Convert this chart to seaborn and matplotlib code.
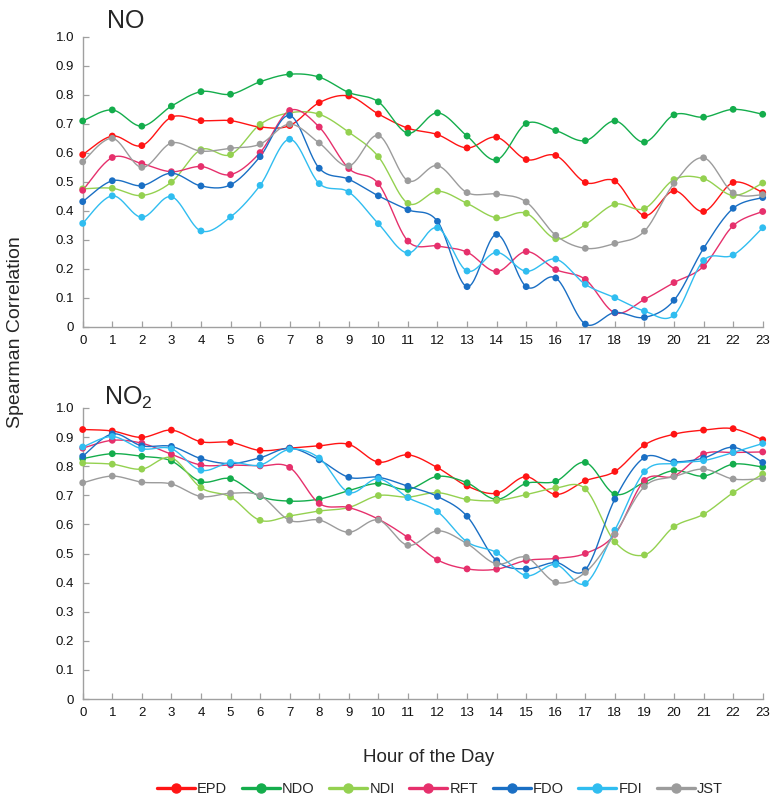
import numpy as np
import pandas as pd
import matplotlib
matplotlib.use("Agg")
import matplotlib.pyplot as plt
from matplotlib.lines import Line2D
import seaborn as sns

# ---------------- data ----------------
hours = list(range(24))
methods = ["EPD", "NDO", "NDI", "RFT", "FDO", "FDI", "JST"]
colors = ["#ff1414", "#14ad4c", "#94d150", "#e6306c", "#1a6fc4", "#30bdf0", "#9c9c9c"]

no_epd = [0.593, 0.657, 0.624, 0.722, 0.710, 0.710, 0.688, 0.693, 0.772, 0.795, 0.733, 0.684,
          0.662, 0.616, 0.653, 0.576, 0.590, 0.497, 0.502, 0.383, 0.468, 0.397, 0.497, 0.462]
no_ndo = [0.709, 0.747, 0.691, 0.760, 0.810, 0.801, 0.844, 0.870, 0.860, 0.807, 0.775, 0.667,
          0.737, 0.657, 0.575, 0.700, 0.676, 0.641, 0.709, 0.636, 0.730, 0.722, 0.749, 0.732]
no_ndi = [0.475, 0.477, 0.452, 0.498, 0.610, 0.593, 0.697, 0.737, 0.732, 0.670, 0.586, 0.425,
          0.467, 0.425, 0.375, 0.391, 0.303, 0.352, 0.422, 0.407, 0.507, 0.510, 0.452, 0.495]
no_rft = [0.470, 0.583, 0.562, 0.534, 0.552, 0.524, 0.600, 0.745, 0.688, 0.545, 0.493, 0.295,
          0.278, 0.257, 0.190, 0.259, 0.197, 0.163, 0.048, 0.094, 0.152, 0.208, 0.348, 0.397]
no_fdo = [0.431, 0.503, 0.486, 0.529, 0.485, 0.489, 0.586, 0.728, 0.546, 0.508, 0.451, 0.403,
          0.363, 0.138, 0.318, 0.138, 0.168, 0.009, 0.049, 0.032, 0.091, 0.270, 0.408, 0.445]
no_fdi = [0.356, 0.451, 0.377, 0.448, 0.330, 0.378, 0.487, 0.646, 0.493, 0.464, 0.355, 0.254,
          0.341, 0.192, 0.256, 0.191, 0.233, 0.146, 0.100, 0.054, 0.040, 0.228, 0.247, 0.341]
no_jst = [0.568, 0.649, 0.549, 0.633, 0.605, 0.615, 0.629, 0.698, 0.633, 0.554, 0.659, 0.503,
          0.555, 0.462, 0.457, 0.430, 0.315, 0.270, 0.287, 0.329, 0.494, 0.582, 0.461, 0.455]

no2_epd = [0.926, 0.921, 0.899, 0.924, 0.884, 0.882, 0.854, 0.862, 0.870, 0.875, 0.814, 0.839,
           0.795, 0.732, 0.707, 0.764, 0.703, 0.750, 0.782, 0.873, 0.910, 0.924, 0.929, 0.891]
no2_ndo = [0.826, 0.843, 0.834, 0.818, 0.747, 0.757, 0.696, 0.680, 0.687, 0.716, 0.741, 0.720,
           0.765, 0.743, 0.686, 0.741, 0.748, 0.813, 0.704, 0.745, 0.785, 0.766, 0.807, 0.797]
no2_ndi = [0.811, 0.807, 0.790, 0.829, 0.726, 0.694, 0.614, 0.629, 0.646, 0.658, 0.699, 0.694,
           0.709, 0.686, 0.682, 0.702, 0.725, 0.722, 0.540, 0.495, 0.592, 0.635, 0.709, 0.773]
no2_rft = [0.862, 0.889, 0.879, 0.841, 0.804, 0.804, 0.801, 0.796, 0.672, 0.658, 0.618, 0.555,
           0.478, 0.447, 0.446, 0.476, 0.483, 0.500, 0.566, 0.751, 0.766, 0.842, 0.847, 0.849]
no2_fdo = [0.834, 0.911, 0.870, 0.868, 0.826, 0.809, 0.829, 0.862, 0.822, 0.762, 0.762, 0.731,
           0.696, 0.628, 0.475, 0.447, 0.469, 0.444, 0.687, 0.830, 0.815, 0.828, 0.865, 0.813]
no2_fdi = [0.866, 0.902, 0.860, 0.860, 0.786, 0.813, 0.804, 0.858, 0.828, 0.710, 0.757, 0.692,
           0.644, 0.540, 0.503, 0.424, 0.462, 0.397, 0.580, 0.781, 0.810, 0.819, 0.847, 0.878]
no2_jst = [0.743, 0.766, 0.745, 0.739, 0.696, 0.707, 0.699, 0.614, 0.615, 0.573, 0.615, 0.528,
           0.578, 0.534, 0.464, 0.487, 0.401, 0.435, 0.567, 0.730, 0.764, 0.790, 0.756, 0.757]

y_ticks = [0, 0.1, 0.2, 0.3, 0.4, 0.5, 0.6, 0.7, 0.8, 0.9, 1.0]
y_tick_labels = ["0", "0.1", "0.2", "0.3", "0.4", "0.5", "0.6", "0.7", "0.8", "0.9", "1.0"]

panels = {
    "NO": [no_epd, no_ndo, no_ndi, no_rft, no_fdo, no_fdi, no_jst],
    "NO2": [no2_epd, no2_ndo, no2_ndi, no2_rft, no2_fdo, no2_fdi, no2_jst],
}

# ---------------- helpers ----------------
def smooth(x, y, n=24):
    """Catmull-Rom curve through the data points (display smoothing only)."""
    pts = np.column_stack([x, y]).astype(float)
    P = np.vstack([pts[0], pts, pts[-1]])
    out = []
    t = np.linspace(0, 1, n, endpoint=False)[:, None]
    for i in range(1, len(P) - 2):
        p0, p1, p2, p3 = P[i - 1], P[i], P[i + 1], P[i + 2]
        c = 0.5 * ((2 * p1) + (-p0 + p2) * t + (2 * p0 - 5 * p1 + 4 * p2 - p3) * t ** 2
                   + (-p0 + 3 * p1 - 3 * p2 + p3) * t ** 3)
        out.append(c)
    out.append(pts[-1:])
    return np.vstack(out)

sns.set_theme(style="white")
plt.rcParams["font.family"] = ["Liberation Sans", "DejaVu Sans"]
plt.rcParams["mathtext.fontset"] = "custom"
plt.rcParams["mathtext.rm"] = "Liberation Sans"

W, H = 783, 808
fig = plt.figure(figsize=(W / 100, H / 100), dpi=100)

ax_specs = [
    ("NO", (82.7, 36.5, 762.7, 326.7)),
    ("NO2", (82.7, 408.0, 762.7, 699.0)),
]
palette = dict(zip(methods, colors))
spine_col = "#a0a0a0"

for key, (x0, ytop, x1, ybot) in ax_specs:
    ax = fig.add_axes([x0 / W, 1 - ybot / H, (x1 - x0) / W, (ybot - ytop) / H])
    series = panels[key]
    pts_rows, dense_rows = [], []
    for m, vals in zip(methods, series):
        for h, v in zip(hours, vals):
            pts_rows.append((m, h, v))
        curve = smooth(hours, vals)
        for cx, cy in curve:
            dense_rows.append((m, cx, cy))
    pts_df = pd.DataFrame(pts_rows, columns=["method", "hour", "value"])
    dense_df = pd.DataFrame(dense_rows, columns=["method", "hour", "value"])

    sns.lineplot(data=dense_df, x="hour", y="value", hue="method", hue_order=methods,
                 palette=palette, estimator=None, sort=False, lw=1.0, legend=False, ax=ax)
    sns.scatterplot(data=pts_df, x="hour", y="value", hue="method", hue_order=methods,
                    palette=palette, s=24, linewidth=0, legend=False, ax=ax, clip_on=False,
                    zorder=3)

    ax.set_xlim(0, 23)
    ax.set_ylim(0, 1.0)
    ax.set_xticks(hours)
    ax.set_xticklabels([str(h) for h in hours])
    ax.set_yticks(y_ticks)
    ax.set_yticklabels(y_tick_labels)
    ax.set_xlabel("")
    ax.set_ylabel("")
    for s in ["top", "right"]:
        ax.spines[s].set_visible(False)
    for s in ["left", "bottom"]:
        ax.spines[s].set_color(spine_col)
        ax.spines[s].set_linewidth(1.0)
    ax.tick_params(axis="both", direction="in", length=4, width=0.9, color=spine_col,
                   labelsize=9.5, labelcolor="#111111", pad=6)
    ax.tick_params(axis="x", bottom=True)
    ax.tick_params(axis="y", left=True)
    ax.grid(False)

fig.text(107 / W, 1 - 28 / H, "NO", fontsize=18, ha="left", va="baseline")
fig.text(104 / W, 1 - 405 / H, r"$\mathregular{NO_2}$", fontsize=18, ha="left", va="baseline")

fig.text(16 / W, 1 - 332 / H, "Spearman Correlation", rotation=90, fontsize=14,
         ha="center", va="center")
fig.text(429 / W, 1 - 757 / H, "Hour of the Day", fontsize=13.5, ha="center", va="center")

handles = [Line2D([0], [0], color=c, lw=2.4, marker="o", markersize=6.5) for c in colors]
fig.legend(handles, methods, loc="center", bbox_to_anchor=(440 / W, 1 - 789 / H), ncol=7,
           frameon=False, fontsize=10.5, handlelength=2.6, handletextpad=0.15,
           columnspacing=1.0, borderaxespad=0)

fig.savefig("out.png", dpi=100)
